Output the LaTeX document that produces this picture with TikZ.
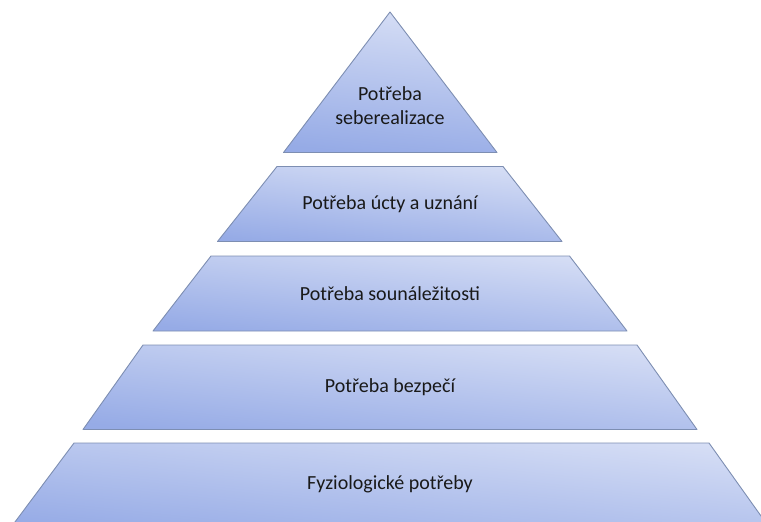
\documentclass[tikz,border=0pt]{standalone}
\usepackage{fontspec}
\setmainfont{Carlito}
\definecolor{lite}{RGB}{214,222,245}
\definecolor{dark}{RGB}{150,171,230}
\definecolor{edge}{RGB}{125,142,178}
\definecolor{txt}{RGB}{25,25,25}
\begin{document}
\begin{tikzpicture}[x=1pt,y=-1pt,
  level/.style={draw=edge,line width=0.9pt,line join=round,top color=lite,bottom color=dark,shading angle=-6},
  lbl/.style={font=\fontsize{20}{24}\selectfont,text=txt,align=center,inner sep=0pt}]
\useasboundingbox (0,0) rectangle (761,522);
\clip (0,0) rectangle (761,522);
% top triangle
\path[level] (390,12) -- (497,152.5) -- (283.5,152.5) -- cycle;
\node[lbl] (l1) at (390,106) {Potřeba\\seberealizace};
% level 2
\path[level] (277,166.5) -- (503,166.5) -- (562,241.5) -- (217.5,241.5) -- cycle;
\node[lbl] (l2) at (390,204) {Potřeba úcty a uznání};
% level 3
\path[level] (211,256) -- (569.5,256) -- (627,331) -- (153,331) -- cycle;
\node[lbl] (l3) at (390,294) {Potřeba sounáležitosti};
% level 4
\path[level] (143,345) -- (637,345) -- (697,429.5) -- (83,429.5) -- cycle;
\node[lbl] (l4) at (390,387) {Potřeba bezpečí};
% level 5
\path[level] (74,443) -- (709,443) -- (771,530) -- (9,530) -- cycle;
\node[lbl] (l5) at (390,484) {Fyziologické potřeby};
\end{tikzpicture}
\end{document}
